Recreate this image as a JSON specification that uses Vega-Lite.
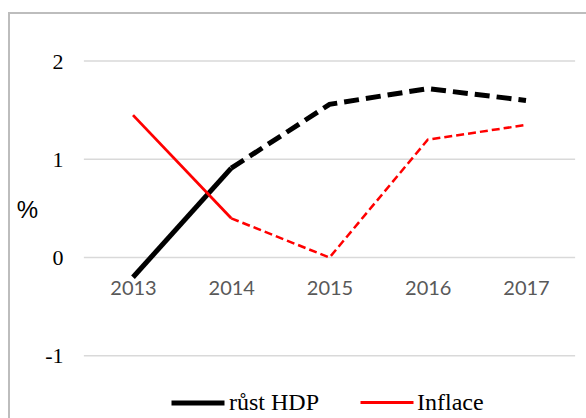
{
  "$schema": "https://vega.github.io/schema/vega-lite/v6.json",
  "autosize": {"type": "none"},
  "padding": {"left": 9, "top": 13, "right": 0, "bottom": 0},
  "width": 590,
  "height": 420,
  "background": "white",
  "config": {
    "view": {"stroke": "#bdbdbd", "strokeWidth": 2},
    "axis": {"grid": false, "domain": false, "ticks": false, "tickSize": 0},
    "legend": {"labelFont": "Times New Roman, Liberation Serif, serif", "labelFontSize": 24, "labelColor": "#000000", "labelOffset": 2, "columnPadding": 34, "padding": 0, "symbolType": "stroke", "symbolSize": 2809}
  },
  "data": {
    "values": [
      {"year": 2013, "value": -0.2, "series": "růst HDP", "part": "skutečnost"},
      {"year": 2014, "value": 0.91, "series": "růst HDP", "part": "skutečnost"},
      {"year": 2014, "value": 0.91, "series": "růst HDP", "part": "odhad"},
      {"year": 2015, "value": 1.56, "series": "růst HDP", "part": "odhad"},
      {"year": 2016, "value": 1.72, "series": "růst HDP", "part": "odhad"},
      {"year": 2017, "value": 1.6, "series": "růst HDP", "part": "odhad"},
      {"year": 2013, "value": 1.45, "series": "Inflace", "part": "skutečnost"},
      {"year": 2014, "value": 0.4, "series": "Inflace", "part": "skutečnost"},
      {"year": 2014, "value": 0.4, "series": "Inflace", "part": "odhad"},
      {"year": 2015, "value": 0.0, "series": "Inflace", "part": "odhad"},
      {"year": 2016, "value": 1.2, "series": "Inflace", "part": "odhad"},
      {"year": 2017, "value": 1.35, "series": "Inflace", "part": "odhad"}
    ]
  },
  "layer": [
    {
      "data": {"values": [{"v": -1}, {"v": 0}, {"v": 1}, {"v": 2}]},
      "mark": {"type": "rule", "color": "#d9d9d9", "strokeWidth": 1.5},
      "encoding": {
        "y": {"field": "v", "type": "quantitative", "scale": {"domain": [-1.7857, 2.4898], "nice": false, "zero": false},
          "axis": {"orient": "left", "offset": -75, "values": [-1, 0, 1, 2], "labelExpr": "toString(datum.value)", "labelPadding": 21, "labelFont": "Times New Roman, Liberation Serif, serif", "labelFontSize": 22, "labelColor": "#000000",
            "title": "%", "titleAngle": 0, "titleX": -57, "titleY": 197, "titleAlign": "center", "titleBaseline": "middle", "titleFont": "Liberation Sans", "titleFontSize": 24, "titleFontWeight": "normal", "titleColor": "#000000"}},
        "x": {"datum": 2012.5, "type": "quantitative", "scale": {"domain": [2011.738, 2017.743], "nice": false, "zero": false},
          "axis": {"orient": "bottom", "offset": -175, "values": [2013, 2014, 2015, 2016, 2017], "labelExpr": "toString(datum.value)", "labelPadding": 20, "labelFont": "Lato", "labelFontSize": 20, "labelColor": "#595959", "title": null}},
        "x2": {"datum": 2017.5}
      }
    },
    {
      "transform": [{"filter": "datum.part === 'odhad' && datum.series === 'Inflace'"}],
      "mark": {"type": "line", "strokeDash": [8, 4], "strokeWidth": 2.5},
      "encoding": {
        "x": {"field": "year", "type": "quantitative"},
        "y": {"field": "value", "type": "quantitative"},
        "color": {"field": "series", "type": "nominal"}
      }
    },
    {
      "transform": [{"filter": "datum.part === 'odhad' && datum.series === 'růst HDP'"}],
      "mark": {"type": "line", "strokeDash": [15, 7], "strokeWidth": 5},
      "encoding": {
        "x": {"field": "year", "type": "quantitative"},
        "y": {"field": "value", "type": "quantitative"},
        "color": {"field": "series", "type": "nominal"}
      }
    },
    {
      "transform": [{"filter": "datum.part === 'skutečnost'"}],
      "mark": {"type": "line"},
      "encoding": {
        "x": {"field": "year", "type": "quantitative"},
        "y": {"field": "value", "type": "quantitative"},
        "color": {"field": "series", "type": "nominal",
          "scale": {"domain": ["růst HDP", "Inflace"], "range": ["#000000", "#ff0000"]},
          "legend": {"orient": "none", "legendX": 160, "legendY": 361, "direction": "horizontal", "title": null}},
        "strokeWidth": {"field": "series", "type": "nominal", "scale": {"domain": ["růst HDP", "Inflace"], "range": [5, 2.8]}}
      }
    }
  ]
}
